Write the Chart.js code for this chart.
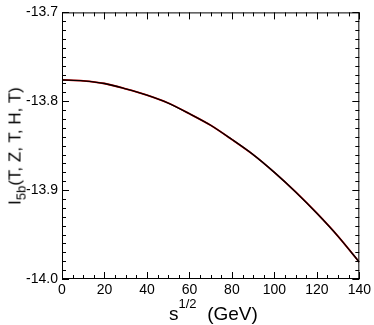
<!DOCTYPE html>
<html><head><meta charset="utf-8">
<script src="https://cdn.jsdelivr.net/npm/chart.js@4.4.1/dist/chart.umd.min.js"></script>
<style>
html,body{margin:0;padding:0;background:#fff;}
#wrap{position:relative;width:374px;height:325px;}
canvas{position:absolute;left:0;top:0;}
.t{position:absolute;font-family:"Liberation Sans",Arial,sans-serif;color:#000;white-space:nowrap;line-height:1;}
#xt{left:169px;top:304px;font-size:19px;}
#xt sup{font-size:13px;position:relative;top:-12px;vertical-align:baseline;}
#yt{left:15px;top:146px;font-size:17px;transform:translate(-50%,-50%) rotate(-90deg);}
#yt sub{font-size:13px;vertical-align:baseline;position:relative;top:5px;}
</style></head>
<body><div id="wrap"><canvas id="c" width="374" height="325"></canvas>
<div class="t" id="xt">s<sup>1/2</sup>&nbsp; (GeV)</div>
<div class="t" id="yt">I<sub>5b</sub>(T, Z, T, H, T)</div>
</div>
<script>
const sqrtS = [0,10,20,30,40,50,60,70,80,90,100,110,120,130,140];
const seriesRed   = [-13.776,-13.777,-13.780,-13.786,-13.793,-13.802,-13.814,-13.827,-13.843,-13.860,-13.880,-13.902,-13.926,-13.952,-13.981];
const seriesBlack = [-13.776,-13.777,-13.780,-13.786,-13.793,-13.802,-13.814,-13.827,-13.843,-13.860,-13.880,-13.902,-13.926,-13.952,-13.981];
const xTicks = [0,20,40,60,80,100,120,140];
const yTicks = [-14.0,-13.9,-13.8,-13.7];

const frame = {
  id:'frame',
  afterDraw(chart){
    const {ctx, chartArea:a, scales:{x,y}} = chart;
    ctx.save();
    ctx.strokeStyle='#000'; ctx.lineWidth=1;
    ctx.strokeRect(a.left+0.5,a.top+0.5,a.right-a.left-1,a.bottom-a.top-1);
    ctx.beginPath();
    for(let v=0; v<=140.001; v+=5){
      const px=Math.round(x.getPixelForValue(v))+0.5;
      const L = (Math.abs(v%20)<1e-6)?7:4;
      ctx.moveTo(px,a.bottom); ctx.lineTo(px,a.bottom-L);
      ctx.moveTo(px,a.top); ctx.lineTo(px,a.top+L);
    }
    for(let i=0;i<=30;i++){
      const v=-14+i*0.01;
      const py=Math.round(y.getPixelForValue(v))+0.5;
      const L=(i%10===0)?7:4;
      ctx.moveTo(a.left,py); ctx.lineTo(a.left+L,py);
      ctx.moveTo(a.right,py); ctx.lineTo(a.right-L,py);
    }
    ctx.stroke();
    ctx.restore();
  }
};

new Chart(document.getElementById('c'),{
  type:'line',
  data:{datasets:[
    {data:sqrtS.map((s,i)=>({x:s,y:seriesBlack[i]})),borderColor:'#000',borderWidth:1.4,pointRadius:0,tension:0.3,order:0},
    {data:sqrtS.map((s,i)=>({x:s,y:seriesRed[i]})),borderColor:'#e00000',borderWidth:1.8,pointRadius:0,tension:0.3,order:1}
  ]},
  options:{
    responsive:false,animation:false,
    layout:{padding:{left:0,right:13,top:6,bottom:0}},
    plugins:{legend:{display:false},tooltip:{enabled:false}},
    scales:{
      x:{type:'linear',min:0,max:140,
        afterBuildTicks:s=>{s.ticks=xTicks.map(v=>({value:v}));},
        grid:{display:false,drawTicks:false},border:{display:false},
        ticks:{color:'#000',padding:3,maxRotation:0,font:{family:'"Liberation Sans", Arial, sans-serif',size:14}},
        afterFit:s=>{s.height=46;}
      },
      y:{type:'linear',min:-14,max:-13.7,
        afterBuildTicks:s=>{s.ticks=yTicks.map(v=>({value:v}));},
        grid:{display:false,drawTicks:false},border:{display:false},
        ticks:{color:'#000',padding:4,callback:v=>v.toFixed(1),font:{family:'"Liberation Sans", Arial, sans-serif',size:14}},
        afterFit:s=>{s.width=62;}
      }
    }
  },
  plugins:[frame]
});
</script></body></html>
